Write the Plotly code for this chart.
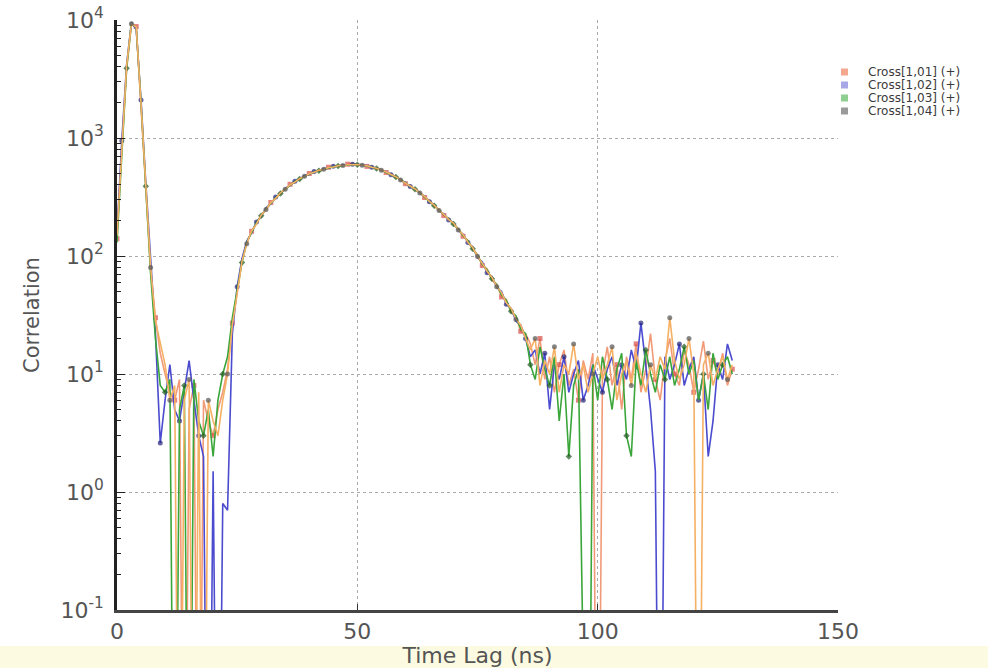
import plotly.graph_objects as go

# ---------------- data ----------------
lag_ns = list(range(0, 129))

cross_1_01 = [140, 850, 3800, 9200, 8800, 1900, 380, 75, 30, 15,
              10, 7, 6, 9, 0, 5, 8, 0, 6, 4,
              3, 5, 7, 11, 27, 52, 92, 128, 162, 188,
              224, 246, 284, 306, 345, 366, 405, 420, 455, 470,
              500, 510, 535, 540, 565, 566, 585, 582, 600, 612,
              590, 596, 575, 572, 548, 540, 510, 497, 462, 447,
              410, 396, 363, 348, 313, 296, 263, 249, 220, 208,
              184, 171, 147, 136, 113, 103, 83, 78, 62, 58,
              45, 43, 33, 31, 23, 22, 18, 12, 20, 9,
              14, 7, 12, 16, 8, 11, 6, 13, 9, 15,
              0, 10, 17, 8, 12, 5, 14, 9, 18, 7,
              11, 22, 9, 6, 13, 20, 10, 8, 16, 12,
              7, 11, 19, 9, 13, 10, 15, 8, 11]

cross_1_02 = [160, 950, 4200, 9600, 8300, 2100, 410, 85, 22, 2.6,
              6, 12, 5, 4, 7, 13, 6, 3, 2, 0,
              1.5, 0, 0.8, 0.7, 22, 55, 95, 134, 157, 194,
              216, 256, 276, 316, 336, 375, 396, 430, 446, 480,
              490, 520, 526, 550, 555, 575, 576, 592, 588, 598,
              600, 586, 584, 564, 558, 530, 520, 488, 472, 438,
              420, 388, 372, 340, 322, 288, 272, 241, 228, 202,
              192, 165, 153, 130, 119, 97, 89, 72, 67, 54,
              50, 39, 36, 28, 26, 20, 14, 16, 10, 15,
              5, 12, 9, 14, 7, 10, 13, 6, 8, 12,
              9, 7, 11, 14, 8, 12, 9, 16, 11, 27,
              12, 5, 1.5, 0, 14, 9, 12, 18, 8, 11,
              14, 6, 10, 2, 4, 12, 9, 18, 13]

cross_1_03 = [130, 800, 3900, 9400, 8600, 2000, 390, 70, 20, 8,
              7, 9, 0, 5, 8, 0, 9, 4, 3, 5,
              2, 6, 10, 14, 30, 50, 88, 131, 160, 191,
              219, 251, 279, 311, 339, 371, 399, 426, 449, 476,
              494, 516, 529, 546, 559, 571, 579, 589, 591, 596,
              594, 591, 579, 569, 552, 536, 514, 493, 467, 443,
              414, 393, 367, 345, 317, 293, 267, 246, 223, 206,
              187, 169, 149, 134, 115, 101, 85, 76, 64, 57,
              47, 42, 34, 31, 24, 22, 12, 9, 17, 11,
              8, 14, 4, 10, 2, 8, 11, 0, 0, 12,
              6, 14, 9, 5, 11, 15, 3, 2, 13, 8,
              16, 10, 7, 12, 9, 14, 8, 11, 17, 10,
              13, 6, 10, 5, 15, 9, 12, 14, 10]

cross_1_04 = [150, 900, 4100, 9300, 8700, 1950, 400, 80, 28, 18,
              12, 6, 8, 0, 6, 9, 0, 7, 0, 6,
              4, 3, 6, 10, 26, 48, 90, 127, 163, 186,
              222, 248, 282, 308, 342, 368, 402, 423, 452, 473,
              497, 513, 532, 543, 562, 568, 582, 586, 594, 593,
              597, 588, 582, 566, 555, 533, 517, 490, 470, 440,
              417, 390, 370, 342, 320, 290, 270, 243, 226, 203,
              190, 166, 152, 131, 118, 99, 87, 74, 66, 55,
              49, 40, 36, 29, 26, 20, 16, 20, 8, 13,
              10, 17, 7, 12, 10, 18, 9, 12, 7, 10,
              14, 9, 12, 17, 6, 10, 13, 8, 15, 10,
              7, 12, 9, 14, 11, 30, 13, 9, 12, 20,
              10, 0, 12, 15, 8, 11, 14, 9, 12]

series_names = ["Cross[1,01] (+)", "Cross[1,02] (+)", "Cross[1,03] (+)", "Cross[1,04] (+)"]
y_tick_vals = [0.1, 1, 10, 100, 1000, 10000]
y_tick_text = ["10<sup>-1</sup>", "10<sup>0</sup>", "10<sup>1</sup>", "10<sup>2</sup>", "10<sup>3</sup>", "10<sup>4</sup>"]
x_tick_vals = [0, 50, 100, 150]

# ---------------- styles ----------------
line_colors = ["#f19a78", "#4b4bd0", "#3aa63a", "#f5b064"]
marker_colors = ["#d9504a", "#23237a", "#1f5a1f", "#555555"]
legend_sym_colors = ["#f4a890", "#a8a8e8", "#8fcf8f", "#9a9a9a"]
marker_symbols = ["square", "circle", "diamond", "circle"]
marker_offsets = [0, 1, 2, 3]

fig = go.Figure()
all_series = [cross_1_01, cross_1_02, cross_1_03, cross_1_04]
for i, (name, vals) in enumerate(zip(series_names, all_series)):
    yvals = [v if v > 0 else 1e-4 for v in vals]
    sizes = [5 if (k % 4 == marker_offsets[i]) else 0 for k in range(len(vals))]
    fig.add_trace(go.Scatter(
        x=lag_ns, y=yvals, name=name, mode="lines+markers",
        line=dict(color=line_colors[i], width=1.6),
        marker=dict(size=sizes, color=marker_colors[i], symbol=marker_symbols[i],
                    line=dict(width=0)),
        cliponaxis=True, showlegend=False,
    ))

L, R, T, B = 117, 150, 20, 58
W, H = 988, 668
pw, ph = W - L - R, H - T - B

def px_x(x):
    return (x - L) / pw

def px_y(y):
    return (H - B - y) / ph

# pale yellow band along the bottom
fig.add_shape(type="rect", xref="paper", yref="paper",
              x0=px_x(0), x1=px_x(W), y0=px_y(H), y1=px_y(646),
              fillcolor="#fcfbe2", line=dict(width=0), layer="below")

# hand-made compact legend
row_y = [72, 85, 98, 111]
for i, name in enumerate(series_names):
    yc = row_y[i]
    fig.add_shape(type="rect", xref="paper", yref="paper",
                  x0=px_x(841), x1=px_x(848), y0=px_y(yc + 3.5), y1=px_y(yc - 3.5),
                  fillcolor=legend_sym_colors[i], line=dict(width=0))
    fig.add_annotation(xref="paper", yref="paper", x=px_x(866), y=px_y(yc),
                       xanchor="left", yanchor="middle", showarrow=False,
                       text=name, font=dict(size=12, color="#3a3a3a", family="DejaVu Sans"))

fig.update_layout(
    width=W, height=H,
    margin=dict(l=L, r=R, t=T, b=B, autoexpand=False),
    paper_bgcolor="white", plot_bgcolor="white",
    font=dict(family="DejaVu Sans", color="#555555"),
    showlegend=False,
)
fig.update_xaxes(
    automargin=False,
    range=[0, 150], tickvals=x_tick_vals, ticks="inside", ticklen=6, tickcolor="#333",
    showline=True, linecolor="#444444", linewidth=2.5,
    showgrid=True, gridcolor="#aaaaaa", griddash="dot", gridwidth=1,
    zeroline=False, tickfont=dict(size=22, color="#555555"),
    title=dict(text="Time Lag (ns)", font=dict(size=22, color="#555555"), standoff=5),
)
minor_vals = [m * 10 ** e for e in range(-1, 4) for m in range(2, 10)]
fig.update_yaxes(
    automargin=False,
    type="log", range=[-1, 4], tickvals=y_tick_vals, ticktext=y_tick_text,
    ticks="inside", ticklen=8, tickcolor="#222",
    minor=dict(tickvals=minor_vals, ticks="inside", ticklen=4, tickcolor="#222", showgrid=False),
    showline=True, linecolor="#222222", linewidth=2.5,
    showgrid=True, gridcolor="#aaaaaa", griddash="dot", gridwidth=1,
    zeroline=False, tickfont=dict(size=22, color="#555555"), ticklabelstandoff=6,
    title=dict(text="Correlation", font=dict(size=21, color="#555555"), standoff=16),
)

fig.write_html("out.html")
